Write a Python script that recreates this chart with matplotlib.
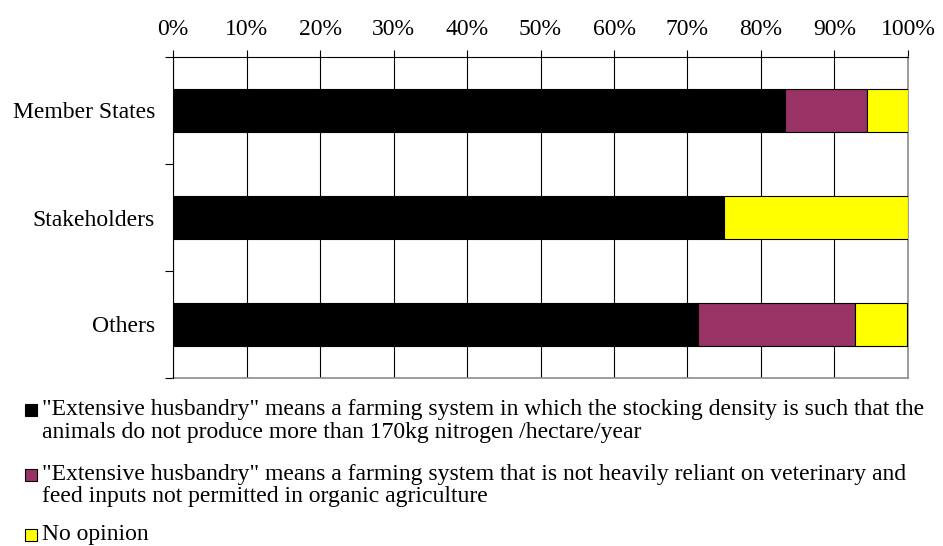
import matplotlib
matplotlib.use("Agg")
import matplotlib.pyplot as plt
from matplotlib.patches import Rectangle
import numpy as np

categories = ["Member States", "Stakeholders", "Others"]
series_names = [
    ['"Extensive husbandry" means a farming system in which the stocking density is such that the',
     'animals do not produce more than 170kg nitrogen /hectare/year'],
    ['"Extensive husbandry" means a farming system that is not heavily reliant on veterinary and',
     'feed inputs not permitted in organic agriculture'],
    ['No opinion'],
]
values_nitrogen = [83.3, 75.0, 71.4]
values_inputs = [11.1, 0.0, 21.4]
values_noopinion = [5.6, 25.0, 7.1]
colors = ["#000000", "#993366", "#FFFF00"]
tick_labels = ["0%", "10%", "20%", "30%", "40%", "50%", "60%", "70%", "80%", "90%", "100%"]

plt.rcParams['font.family'] = ['Liberation Serif', 'DejaVu Serif']
FS = 17

fig = plt.figure(figsize=(9.43, 5.46), dpi=100)
ax = fig.add_axes([173/943, 1-378/546, (908-173)/943, (378-57)/546])

y = np.arange(len(categories))
left = np.zeros(len(categories))
for vals, col in zip([values_nitrogen, values_inputs, values_noopinion], colors):
    vals = np.array(vals)
    ax.barh(y, vals, left=left, height=0.4, color=col, edgecolor="#000000", linewidth=0.8, zorder=3)
    left += vals

ax.set_xlim(0, 100)
ax.set_ylim(2.5, -0.5)
ax.xaxis.tick_top()
ax.set_xticks(np.arange(0, 101, 10))
ax.set_xticklabels(tick_labels, fontsize=FS)
ax.tick_params(axis='x', direction='out', length=5, width=0.8, color='black', pad=7)
ax.grid(axis='x', color='#000000', linewidth=0.8, zorder=0)
ax.set_yticks([-0.5, 0.5, 1.5, 2.5])
ax.set_yticklabels([])
ax.set_yticks(y, minor=True)
ax.set_yticklabels(categories, minor=True, fontsize=FS)
ax.tick_params(axis='y', which='major', direction='out', length=6, width=0.8)
ax.tick_params(axis='y', which='minor', length=0, pad=13)
for s in ['right', 'bottom']:
    ax.spines[s].set_color('#8c8c8c')
    ax.spines[s].set_linewidth(1.2)
ax.spines['top'].set_linewidth(0.8)
ax.spines['left'].set_linewidth(0.8)
ax.spines['left'].set_zorder(4)

# legend (baselines in pixels from top)
W, H = 943, 546
rows = [(415, 438), (480, 502), (540,)]
for i, ys in enumerate(rows):
    fig.patches.append(Rectangle((25/W, 1-(ys[0]+1)/H), 12/W, 12/H, transform=fig.transFigure,
                                 facecolor=colors[i], edgecolor='black', linewidth=0.8))
    for line, yy in zip(series_names[i], ys):
        fig.text(42/W, 1-yy/H, line, fontsize=FS, va='baseline', ha='left')

fig.savefig("out.png", dpi=100)
